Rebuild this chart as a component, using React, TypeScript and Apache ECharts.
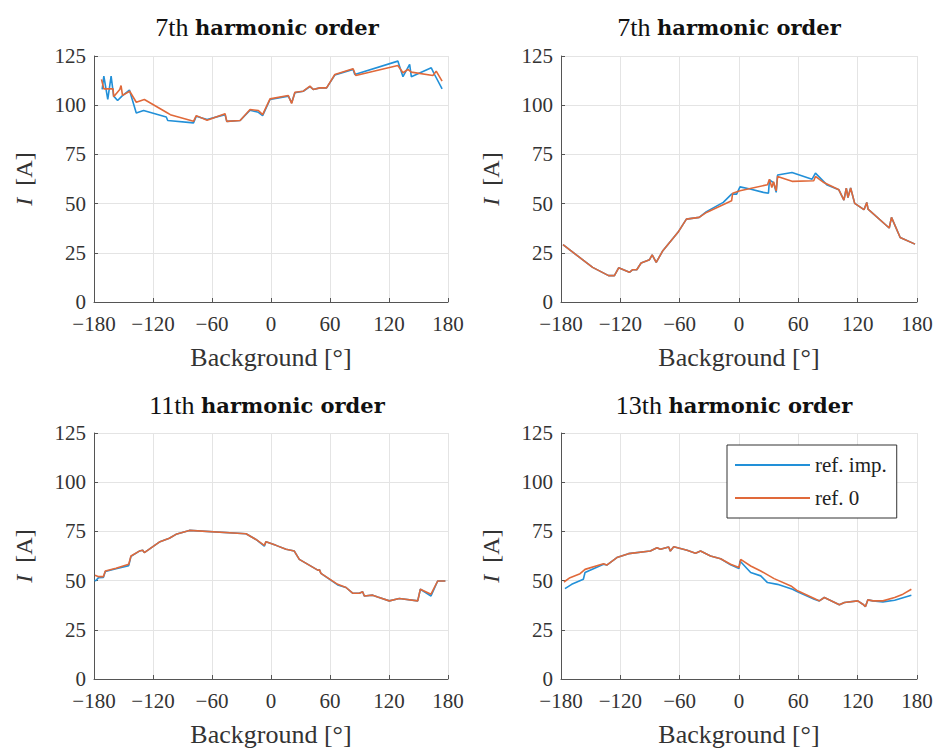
import React, { useEffect, useRef } from "react";
import * as echarts from "echarts";

const X_TICKS = [-180, -120, -60, 0, 60, 120, 180];
const Y_TICKS = [0, 25, 50, 75, 100, 125];
const SERIES_NAMES = ["ref. imp.", "ref. 0"];
const TITLES = [
  ["7th", "harmonic order"],
  ["7th", "harmonic order"],
  ["11th", "harmonic order"],
  ["13th", "harmonic order"],
];

// Panel 1: 7th harmonic (top-left)
const p1Imp = [
  [-171.7, 108], [-170, 114.8], [-166, 103], [-162.6, 114.8], [-160, 104.6], [-156, 102.4],
  [-151.6, 104.6], [-144, 107.7], [-137, 96], [-129.6, 97.3], [-106.5, 94], [-105, 92.2],
  [-78.8, 91], [-76, 94.4], [-65, 92.7], [-46.7, 95.2], [-45, 91.8], [-31.4, 92.2],
  [-21.3, 97.4], [-12.8, 96.4], [-8.5, 94.7], [-1, 102.9], [17.6, 104.6], [21, 101.2],
  [24.3, 106.3], [32.8, 107.1], [39.6, 109.4], [43, 108], [49.7, 108.8], [56.5, 108.8],
  [64.9, 115.3], [83.5, 118.2], [85.2, 115.6], [129, 122.4], [134.2, 114.5], [141, 120.7],
  [142.7, 114.5], [163, 119], [166.3, 115.6], [174, 108.3],
];
const p1Ref0 = [
  [-172.4, 113.1], [-170, 108.3], [-160.6, 108.3], [-160, 104.3], [-153.8, 108], [-152.5, 110],
  [-151, 105], [-143.7, 107.1], [-137, 101.5], [-128.8, 102.9], [-106.5, 96.4], [-102.4, 95.2],
  [-78.8, 91.8], [-76, 94.7], [-65, 92.3], [-46.7, 95.7], [-45, 91.8], [-31.4, 92.2],
  [-21.3, 97.8], [-12.8, 97.3], [-8.5, 95.2], [-1, 103.2], [17.6, 104.9], [21, 100.9],
  [24.3, 106.6], [32.8, 107.1], [39.6, 109.7], [43, 108], [49.7, 108.8], [56.5, 108.8],
  [64.9, 115.6], [83.5, 118.5], [86.2, 115.1], [129, 120.2], [134.2, 116.5], [139.3, 118.2],
  [142.7, 116.8], [164.6, 115.1], [168, 117.3], [174, 112.2],
];

// Panel 2: 7th harmonic (top-right)
const p2Ref0 = [
  [-178, 29.1], [-148, 17.6], [-131.9, 13.4], [-126, 13.4], [-121.7, 17.4], [-110.8, 15.1],
  [-107.5, 16.4], [-103.4, 16.4], [-99, 19.8], [-90.5, 21.5], [-87.8, 23.9], [-83.7, 20.1],
  [-77, 26.1], [-61.7, 35.4], [-53.2, 42.1], [-40.3, 43], [-32.9, 45.5], [-7.5, 51.4],
  [-6.4, 55.3], [1, 56.5], [28.8, 59.6], [30.8, 62.4], [33.2, 58.2], [34.9, 61.1],
  [37.6, 56.5], [39, 63.8], [53.6, 61.3], [75.6, 61.6], [77.3, 63.8], [85.8, 60.7],
  [101, 57], [106.1, 51.8], [108.5, 57.9], [110.2, 53.1], [112.9, 57.9], [117, 50.1],
  [126.4, 46.9], [129.2, 50.6], [130.5, 47.2], [151.9, 37.6], [154.2, 43], [163, 32.8],
  [178, 29.4],
];
const p2Imp = [
  [-178, 29.1], [-148, 17.6], [-131.9, 13.4], [-126, 13.4], [-121.7, 17.4], [-110.8, 15.1],
  [-107.5, 16.4], [-103.4, 16.4], [-99, 19.8], [-90.5, 21.5], [-87.8, 23.9], [-83.7, 20.1],
  [-77, 26.1], [-61.7, 35.4], [-53.2, 42.1], [-40.3, 43], [-32.9, 45.9], [-15.9, 50.6],
  [-7.5, 54.8], [-2.4, 54.8], [1, 58.5], [11.2, 57.4], [24.7, 55.7], [29.8, 55.3],
  [30.8, 62.1], [34.9, 60.7], [37.6, 55.7], [39, 64.5], [53.6, 65.8], [73.9, 62.4],
  [77.3, 65.5], [89.2, 59.4], [101, 57], [106.1, 51.8], [108.5, 57.9], [110.2, 53.1],
  [112.9, 57.9], [117, 50.1], [126.4, 46.9], [129.2, 50.6], [130.5, 47.2], [151.9, 37.6],
  [154.2, 43], [163, 32.8], [178, 29.4],
];

// Panel 3: 11th harmonic (bottom-left)
const p3Ref0 = [
  [-179, 52.7], [-175.3, 52], [-170.5, 52], [-168.5, 54.9], [-157.6, 56.3], [-144.7, 58.3],
  [-142.4, 62.5], [-133.9, 65], [-130.5, 65.4], [-128.8, 64.2], [-113.6, 69.6], [-103.4, 71.5],
  [-96.6, 73.5], [-83, 75.5], [-25.4, 73.8], [-15.3, 70.9], [-6.8, 67.9], [-5.1, 69.8],
  [5.1, 67.9], [15.3, 65.9], [23.7, 65], [28.8, 60.8], [48, 55.2], [49.2, 55.6],
  [50.8, 53.7], [67.8, 48.1], [76.3, 46.5], [83, 43.6], [89.8, 43.6], [93.2, 44.3],
  [94.9, 42.2], [103.4, 42.6], [108.5, 41.7], [120.3, 39.7], [130.5, 40.9], [149.2, 39.7],
  [151.9, 45.6], [162.7, 43.1], [169.5, 49.8], [177.3, 49.8],
];
const p3Imp = [
  [-179, 50.5], [-178.6, 49.8], [-175.3, 51.5], [-170.5, 51.6], [-168.5, 54.6], [-157.6, 56],
  [-144.7, 57.6], [-142.4, 62.3], [-133.9, 65], [-130.5, 65.4], [-128.8, 64.2], [-113.6, 69.6],
  [-103.4, 71.5], [-96.6, 73.5], [-83, 75.5], [-25.4, 73.8], [-15.3, 70.9], [-6.8, 67.5],
  [-5.1, 69.8], [5.1, 67.9], [15.3, 65.9], [23.7, 65], [28.8, 60.8], [48, 55.2],
  [49.2, 55.6], [50.8, 53.7], [67.8, 47.8], [76.3, 46.5], [83, 43.6], [89.8, 43.6],
  [93.2, 44.3], [94.9, 42.2], [103.4, 42.6], [108.5, 41.7], [120.3, 39.7], [130.5, 40.9],
  [149.2, 39.7], [151.9, 45.6], [162.7, 42.2], [169.5, 49.8], [177.3, 49.8],
];

// Panel 4: 13th harmonic (bottom-right)
const p4Ref0 = [
  [-177, 49.3], [-170.9, 51.5], [-160.7, 53.5], [-155.7, 55.7], [-137, 58.6], [-133.7, 57.9],
  [-123.5, 61.7], [-111.7, 63.7], [-89.7, 65], [-82.9, 66.7], [-79.5, 65.9], [-71.1, 67.1],
  [-69.4, 65], [-66, 67.2], [-52.5, 65.4], [-44, 63.9], [-38.9, 65], [-28.8, 62.5],
  [-18.6, 61.1], [-8.5, 58.3], [0, 56.6], [1.7, 60.8], [11.8, 57.4], [22, 54.9],
  [35.5, 51], [52.5, 47.3], [59.2, 44.8], [76.1, 40.9], [81.2, 39.7], [86.3, 41.4],
  [101.5, 37.7], [106.6, 38.9], [120.1, 39.7], [125.2, 38], [127.9, 36.8], [130.3, 40.2],
  [135.4, 39.7], [145.5, 39.7], [157.4, 41.4], [165.8, 43.1], [174.3, 45.6],
];
const p4Imp = [
  [-176, 45.9], [-169.2, 48.1], [-157.4, 50.7], [-155.7, 54.1], [-137, 58.3], [-133.7, 57.9],
  [-123.5, 61.7], [-111.7, 63.7], [-89.7, 65], [-82.9, 66.7], [-79.5, 65.9], [-71.1, 67.1],
  [-69.4, 65], [-66, 67.2], [-52.5, 65.4], [-44, 63.9], [-38.9, 65], [-28.8, 62.5],
  [-18.6, 61.1], [-8.5, 58], [0, 56.1], [1, 60], [11.8, 54.1], [22, 52.4],
  [28.8, 49], [38.9, 48.1], [54.1, 45.6], [59.2, 44.3], [76.1, 40.5], [81.2, 39.7],
  [86.3, 41.4], [101.5, 37.7], [106.6, 38.9], [120.1, 39.7], [125.2, 38], [127.9, 36.8],
  [130.3, 40.2], [135.4, 39.7], [145.5, 39.2], [157.4, 40], [174.3, 42.6],
];

const PANELS = [
  { imp: p1Imp, ref0: p1Ref0 },
  { imp: p2Imp, ref0: p2Ref0 },
  { imp: p3Imp, ref0: p3Ref0 },
  { imp: p4Imp, ref0: p4Ref0 },
];

const FONT = "'Liberation Serif', 'Times New Roman', serif";
const BOLD_FONT = "'DejaVu Serif', serif";
const BLUE = "#2290d8";
const ORANGE = "#e0693a";

const GRIDS = [
  { left: 94, top: 56, width: 354, height: 246, titleX: 267, titleY: 27 },
  { left: 561, top: 56, width: 356, height: 246, titleX: 729, titleY: 27 },
  { left: 94, top: 433, width: 354, height: 246, titleX: 267, titleY: 405 },
  { left: 561, top: 433, width: 356, height: 246, titleX: 734, titleY: 405 },
];

function fmtX(v: number) {
  return v < 0 ? "\u2212" + Math.abs(v) : String(v);
}

export default function App() {
  const ref = useRef<HTMLDivElement>(null);
  useEffect(() => {
    if (!ref.current) return;
    const chart = echarts.init(ref.current, null, { renderer: "svg" });
    const xMin = X_TICKS[0];
    const xMax = X_TICKS[X_TICKS.length - 1];
    const xInt = X_TICKS[1] - X_TICKS[0];
    const yMin = Y_TICKS[0];
    const yMax = Y_TICKS[Y_TICKS.length - 1];
    const yInt = Y_TICKS[1] - Y_TICKS[0];

    const grid = GRIDS.map((g) => ({ left: g.left, top: g.top, width: g.width, height: g.height }));
    const xAxis = GRIDS.map((_, i) => ({
      type: "value",
      gridIndex: i,
      min: xMin,
      max: xMax,
      interval: xInt,
      name: "Background [°]",
      nameLocation: "middle",
      nameGap: 42,
      nameTextStyle: { fontFamily: FONT, fontSize: 26, color: "#333" },
      axisLine: { show: true, onZero: false, lineStyle: { color: "#555", width: 1 } },
      axisTick: { show: true, inside: true, length: 4, lineStyle: { color: "#555" } },
      axisLabel: {
        fontFamily: FONT,
        fontSize: 21,
        lineHeight: 16,
        color: "#333",
        margin: 14,
        formatter: (v: number) => fmtX(v),
      },
      splitLine: { show: true, lineStyle: { color: "#e4e4e4", width: 1 } },
    }));
    const yAxis = GRIDS.map((_, i) => ({
      type: "value",
      gridIndex: i,
      min: yMin,
      max: yMax,
      interval: yInt,
      name: "{i|I}  [A]",
      nameLocation: "middle",
      nameRotate: 90,
      nameGap: 58,
      nameTextStyle: {
        fontFamily: FONT,
        fontSize: 24,
        color: "#333",
        rich: { i: { fontFamily: FONT, fontSize: 24, fontStyle: "italic", color: "#333" } },
      },
      axisLine: { show: true, onZero: false, lineStyle: { color: "#555", width: 1 } },
      axisTick: { show: true, inside: true, length: 4, lineStyle: { color: "#555" } },
      axisLabel: { fontFamily: FONT, fontSize: 21, lineHeight: 16, color: "#333", margin: 8 },
      splitLine: { show: true, lineStyle: { color: "#e4e4e4", width: 1 } },
    }));
    const series: any[] = [];
    PANELS.forEach((p, i) => {
      series.push({
        type: "line",
        name: SERIES_NAMES[0],
        xAxisIndex: i,
        yAxisIndex: i,
        data: p.imp,
        symbol: "none",
        lineStyle: { color: BLUE, width: 1.6 },
        itemStyle: { color: BLUE },
        z: 2,
      });
      series.push({
        type: "line",
        name: SERIES_NAMES[1],
        xAxisIndex: i,
        yAxisIndex: i,
        data: p.ref0,
        symbol: "none",
        lineStyle: { color: ORANGE, width: 1.6 },
        itemStyle: { color: ORANGE },
        z: 3,
      });
    });
    const graphic = GRIDS.map((g, i) => ({
      type: "text",
      x: g.titleX,
      y: g.titleY,
      style: {
        text: "{a|" + TITLES[i][0] + "} {b|" + TITLES[i][1] + "}",
        align: "center",
        verticalAlign: "middle",
        fontFamily: FONT,
        fontSize: 26,
        rich: {
          a: { fontFamily: FONT, fontSize: 26, fontWeight: "normal", fill: "#111" },
          b: { fontFamily: BOLD_FONT, fontSize: 21, fontWeight: "bold", fill: "#111" },
        },
      },
    }));
    chart.setOption({
      animation: false,
      backgroundColor: "#fff",
      grid,
      xAxis,
      yAxis,
      series,
      graphic,
      legend: {
        data: SERIES_NAMES,
        orient: "vertical",
        left: 727,
        top: 445,
        padding: [9, 10, 9, 8],
        icon: "rect",
        itemWidth: 75,
        itemHeight: 2,
        itemGap: 11,
        itemTextGap: 6,
        borderColor: "#333",
        borderWidth: 1,
        backgroundColor: "#fff",
        selectedMode: false,
        textStyle: { fontFamily: FONT, fontSize: 21, color: "#222", lineHeight: 22 },
      },
    });
    return () => chart.dispose();
  }, []);
  return (
    <div
      ref={ref}
      style={{ position: "fixed", left: 0, top: 0, width: 940, height: 751, background: "#fff" }}
    />
  );
}
